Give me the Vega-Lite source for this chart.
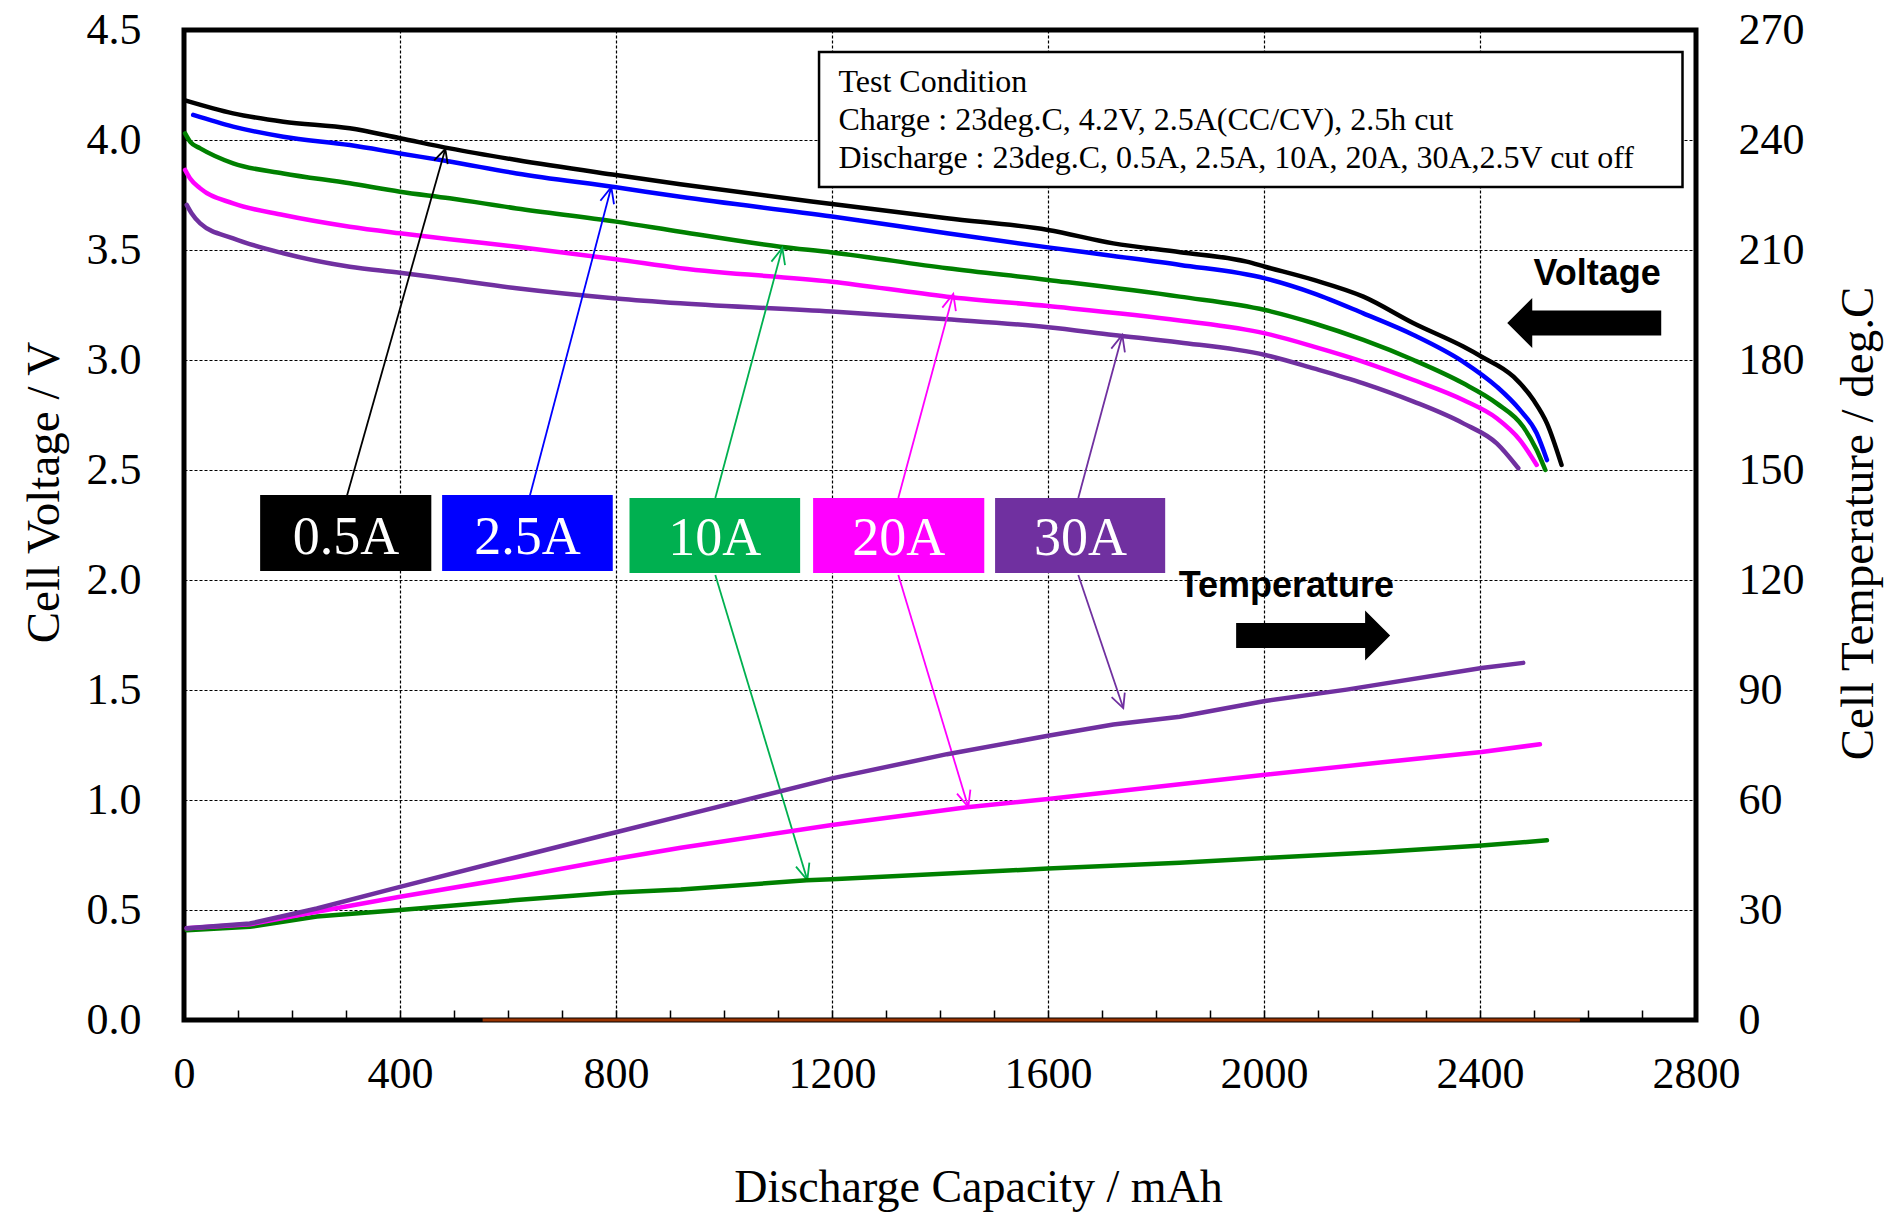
{
  "$schema": "https://vega.github.io/schema/vega-lite/v6.json",
  "width": 1512,
  "height": 990,
  "autosize": {"type": "none"},
  "padding": {"left": 184, "top": 30, "right": 190, "bottom": 195},
  "background": "white",
  "config": {
    "view": {"stroke": "black", "strokeWidth": 5},
    "font": "Liberation Serif"
  },
  "datasets": {
    "volt": [
      {"s":"0.5A","x":2,"v":4.18},{"s":"0.5A","x":91,"v":4.121},{"s":"0.5A","x":184,"v":4.083},{"s":"0.5A","x":307,"v":4.053},{"s":"0.5A","x":400,"v":4.008},{"s":"0.5A","x":492,"v":3.962},{"s":"0.5A","x":616,"v":3.909},{"s":"0.5A","x":800,"v":3.841},{"s":"0.5A","x":919,"v":3.799},{"s":"0.5A","x":1200,"v":3.709},{"s":"0.5A","x":1413,"v":3.644},{"s":"0.5A","x":1600,"v":3.591},{"s":"0.5A","x":1721,"v":3.53},{"s":"0.5A","x":1845,"v":3.49},{"s":"0.5A","x":1968,"v":3.447},{"s":"0.5A","x":2002,"v":3.424},{"s":"0.5A","x":2092,"v":3.364},{"s":"0.5A","x":2184,"v":3.288},{"s":"0.5A","x":2277,"v":3.167},{"s":"0.5A","x":2369,"v":3.061},{"s":"0.5A","x":2403,"v":3.015},{"s":"0.5A","x":2462,"v":2.924},{"s":"0.5A","x":2499,"v":2.818},{"s":"0.5A","x":2524,"v":2.712},{"s":"0.5A","x":2551,"v":2.523},
      {"s":"2.5A","x":17,"v":4.114},{"s":"2.5A","x":91,"v":4.061},{"s":"2.5A","x":184,"v":4.015},{"s":"2.5A","x":307,"v":3.977},{"s":"2.5A","x":400,"v":3.939},{"s":"2.5A","x":492,"v":3.902},{"s":"2.5A","x":616,"v":3.848},{"s":"2.5A","x":800,"v":3.785},{"s":"2.5A","x":919,"v":3.742},{"s":"2.5A","x":1200,"v":3.652},{"s":"2.5A","x":1413,"v":3.576},{"s":"2.5A","x":1600,"v":3.512},{"s":"2.5A","x":1721,"v":3.473},{"s":"2.5A","x":1845,"v":3.432},{"s":"2.5A","x":2002,"v":3.371},{"s":"2.5A","x":2092,"v":3.303},{"s":"2.5A","x":2184,"v":3.212},{"s":"2.5A","x":2277,"v":3.114},{"s":"2.5A","x":2369,"v":2.992},{"s":"2.5A","x":2431,"v":2.879},{"s":"2.5A","x":2474,"v":2.773},{"s":"2.5A","x":2505,"v":2.667},{"s":"2.5A","x":2524,"v":2.545},
      {"s":"10A","x":2,"v":4.03},{"s":"10A","x":12,"v":3.99},{"s":"10A","x":30,"v":3.962},{"s":"10A","x":91,"v":3.894},{"s":"10A","x":184,"v":3.848},{"s":"10A","x":307,"v":3.803},{"s":"10A","x":400,"v":3.765},{"s":"10A","x":492,"v":3.735},{"s":"10A","x":616,"v":3.689},{"s":"10A","x":800,"v":3.629},{"s":"10A","x":919,"v":3.583},{"s":"10A","x":1104,"v":3.515},{"s":"10A","x":1200,"v":3.489},{"s":"10A","x":1413,"v":3.417},{"s":"10A","x":1600,"v":3.364},{"s":"10A","x":1844,"v":3.288},{"s":"10A","x":2002,"v":3.227},{"s":"10A","x":2092,"v":3.167},{"s":"10A","x":2184,"v":3.091},{"s":"10A","x":2277,"v":3.0},{"s":"10A","x":2369,"v":2.894},{"s":"10A","x":2431,"v":2.803},{"s":"10A","x":2480,"v":2.697},{"s":"10A","x":2505,"v":2.591},{"s":"10A","x":2521,"v":2.5},
      {"s":"20A","x":2,"v":3.864},{"s":"20A","x":11,"v":3.826},{"s":"20A","x":30,"v":3.78},{"s":"20A","x":91,"v":3.712},{"s":"20A","x":184,"v":3.659},{"s":"20A","x":307,"v":3.606},{"s":"20A","x":400,"v":3.576},{"s":"20A","x":492,"v":3.549},{"s":"20A","x":616,"v":3.515},{"s":"20A","x":800,"v":3.458},{"s":"20A","x":919,"v":3.417},{"s":"20A","x":1200,"v":3.356},{"s":"20A","x":1413,"v":3.288},{"s":"20A","x":1600,"v":3.245},{"s":"20A","x":1844,"v":3.18},{"s":"20A","x":2002,"v":3.121},{"s":"20A","x":2092,"v":3.061},{"s":"20A","x":2184,"v":2.992},{"s":"20A","x":2277,"v":2.909},{"s":"20A","x":2369,"v":2.818},{"s":"20A","x":2431,"v":2.735},{"s":"20A","x":2474,"v":2.636},{"s":"20A","x":2505,"v":2.523},
      {"s":"30A","x":5,"v":3.705},{"s":"30A","x":14,"v":3.667},{"s":"30A","x":30,"v":3.621},{"s":"30A","x":91,"v":3.553},{"s":"30A","x":184,"v":3.485},{"s":"30A","x":307,"v":3.424},{"s":"30A","x":400,"v":3.397},{"s":"30A","x":492,"v":3.367},{"s":"30A","x":616,"v":3.326},{"s":"30A","x":800,"v":3.28},{"s":"30A","x":919,"v":3.258},{"s":"30A","x":1200,"v":3.22},{"s":"30A","x":1413,"v":3.185},{"s":"30A","x":1600,"v":3.149},{"s":"30A","x":1721,"v":3.114},{"s":"30A","x":1844,"v":3.08},{"s":"30A","x":2002,"v":3.023},{"s":"30A","x":2092,"v":2.962},{"s":"30A","x":2184,"v":2.894},{"s":"30A","x":2277,"v":2.811},{"s":"30A","x":2369,"v":2.712},{"s":"30A","x":2431,"v":2.621},{"s":"30A","x":2471,"v":2.508}
    ],
    "temp": [
      {"s":"10A","x":5,"t":24.5},{"s":"10A","x":122,"t":25.4},{"s":"10A","x":246,"t":28.2},{"s":"10A","x":400,"t":30.0},{"s":"10A","x":616,"t":32.7},{"s":"10A","x":800,"t":34.8},{"s":"10A","x":920,"t":35.6},{"s":"10A","x":1153,"t":38.1},{"s":"10A","x":1200,"t":38.4},{"s":"10A","x":1600,"t":41.3},{"s":"10A","x":1844,"t":42.9},{"s":"10A","x":2002,"t":44.2},{"s":"10A","x":2215,"t":45.8},{"s":"10A","x":2403,"t":47.6},{"s":"10A","x":2524,"t":49.0},
      {"s":"20A","x":5,"t":25.0},{"s":"20A","x":122,"t":26.1},{"s":"20A","x":246,"t":29.5},{"s":"20A","x":400,"t":33.6},{"s":"20A","x":616,"t":39.0},{"s":"20A","x":800,"t":44.0},{"s":"20A","x":920,"t":47.0},{"s":"20A","x":1200,"t":53.2},{"s":"20A","x":1450,"t":58.0},{"s":"20A","x":1600,"t":60.3},{"s":"20A","x":1844,"t":64.3},{"s":"20A","x":2002,"t":66.9},{"s":"20A","x":2215,"t":70.2},{"s":"20A","x":2403,"t":73.1},{"s":"20A","x":2511,"t":75.2},
      {"s":"30A","x":5,"t":25.0},{"s":"30A","x":122,"t":26.3},{"s":"30A","x":246,"t":30.4},{"s":"30A","x":400,"t":36.3},{"s":"30A","x":616,"t":44.4},{"s":"30A","x":800,"t":51.2},{"s":"30A","x":920,"t":55.6},{"s":"30A","x":1200,"t":65.9},{"s":"30A","x":1413,"t":72.5},{"s":"30A","x":1600,"t":77.5},{"s":"30A","x":1721,"t":80.6},{"s":"30A","x":1844,"t":82.7},{"s":"30A","x":2002,"t":87.0},{"s":"30A","x":2153,"t":90.1},{"s":"30A","x":2403,"t":96.0},{"s":"30A","x":2480,"t":97.4}
    ],
    "zero": [{"x":553,"v":0},{"x":2585,"v":0}],
    "box": [{"x1":1176,"x2":2775,"v1":3.786,"v2":4.4}],
    "cond": [
      {"t":"Test Condition","x":1212,"v":4.218},
      {"t":"Charge : 23deg.C, 4.2V, 2.5A(CC/CV), 2.5h cut","x":1212,"v":4.045},
      {"t":"Discharge : 23deg.C, 0.5A, 2.5A, 10A, 20A, 30A,2.5V cut off","x":1212,"v":3.873}
    ],
    "labels": [
      {"s":"0.5A","x1":141,"x2":458,"v1":2.041,"v2":2.386,"cx":300,"b":2.118},
      {"s":"2.5A","x1":478,"x2":794,"v1":2.041,"v2":2.386,"cx":636,"b":2.118},
      {"s":"10A","x1":825,"x2":1141,"v1":2.032,"v2":2.373,"cx":983,"b":2.114},
      {"s":"20A","x1":1165,"x2":1482,"v1":2.032,"v2":2.373,"cx":1323.5,"b":2.114},
      {"s":"30A","x1":1502,"x2":1817,"v1":2.032,"v2":2.373,"cx":1660,"b":2.114}
    ],
    "arrows": [
      {"id":"a1","s":"0.5A","o":1,"x":300.6,"v":2.373},{"id":"a1","s":"0.5A","o":2,"x":483.9,"v":3.959},
      {"id":"h1","s":"0.5A","o":1,"x":488.3,"v":3.89},{"id":"h1","s":"0.5A","o":2,"x":483.9,"v":3.959},{"id":"h1","s":"0.5A","o":3,"x":463.3,"v":3.907},
      {"id":"a2","s":"2.5A","o":1,"x":639.4,"v":2.373},{"id":"a2","s":"2.5A","o":2,"x":791.3,"v":3.786},
      {"id":"h2","s":"2.5A","o":1,"x":796.3,"v":3.708},{"id":"h2","s":"2.5A","o":2,"x":791.3,"v":3.786},{"id":"h2","s":"2.5A","o":3,"x":771.1,"v":3.724},
      {"id":"a3","s":"10A","o":1,"x":983.9,"v":2.373},{"id":"a3","s":"10A","o":2,"x":1108.0,"v":3.509},
      {"id":"h3","s":"10A","o":1,"x":1113.0,"v":3.431},{"id":"h3","s":"10A","o":2,"x":1108.0,"v":3.509},{"id":"h3","s":"10A","o":3,"x":1087.8,"v":3.447},
      {"id":"a4","s":"10A","o":1,"x":983.9,"v":2.023},{"id":"a4","s":"10A","o":2,"x":1154.3,"v":0.636},
      {"id":"h4","s":"10A","o":1,"x":1158.1,"v":0.715},{"id":"h4","s":"10A","o":2,"x":1154.3,"v":0.636},{"id":"h4","s":"10A","o":3,"x":1133.3,"v":0.697},
      {"id":"a5","s":"20A","o":1,"x":1322.8,"v":2.373},{"id":"a5","s":"20A","o":2,"x":1424.6,"v":3.3},
      {"id":"h5","s":"20A","o":1,"x":1429.4,"v":3.222},{"id":"h5","s":"20A","o":2,"x":1424.6,"v":3.3},{"id":"h5","s":"20A","o":3,"x":1404.3,"v":3.238},
      {"id":"a6","s":"20A","o":1,"x":1322.8,"v":2.023},{"id":"a6","s":"20A","o":2,"x":1452.4,"v":0.968},
      {"id":"h6","s":"20A","o":1,"x":1456.3,"v":1.047},{"id":"h6","s":"20A","o":2,"x":1452.4,"v":0.968},{"id":"h6","s":"20A","o":3,"x":1431.5,"v":1.029},
      {"id":"a7","s":"30A","o":1,"x":1656.1,"v":2.373},{"id":"a7","s":"30A","o":2,"x":1737.6,"v":3.114},
      {"id":"h7","s":"30A","o":1,"x":1742.4,"v":3.035},{"id":"h7","s":"30A","o":2,"x":1737.6,"v":3.114},{"id":"h7","s":"30A","o":3,"x":1717.2,"v":3.052},
      {"id":"a8","s":"30A","o":1,"x":1656.1,"v":2.023},{"id":"a8","s":"30A","o":2,"x":1739.4,"v":1.418},
      {"id":"h8","s":"30A","o":1,"x":1742.2,"v":1.488},{"id":"h8","s":"30A","o":2,"x":1739.4,"v":1.418},{"id":"h8","s":"30A","o":3,"x":1717.8,"v":1.468}
    ],
    "leftArrow": [{"x":2593,"v":3.168}],
    "rightArrow": [{"x":2091,"v":1.748}],
    "words": [
      {"t":"Voltage","x":2499,"v":3.341},
      {"t":"Temperature","x":1842,"v":1.923}
    ]
  },
  "layer": [
    {
      "layer": [
        {
          "data": {"name": "volt"},
          "mark": {"type": "line", "strokeWidth": 4.5, "strokeCap": "round", "interpolate": "monotone"},
          "encoding": {
            "x": {
              "field": "x", "type": "quantitative",
              "scale": {"domain": [0, 2800], "nice": false, "zero": false},
              "axis": {
                "values": [0,100,200,300,400,500,600,700,800,900,1000,1100,1200,1300,1400,1500,1600,1700,1800,1900,2000,2100,2200,2300,2400,2500,2600,2700,2800],
                "labelExpr": "datum.value % 400 === 0 ? datum.label : ''",
                "format": "d",
                "labelFont": "Liberation Serif", "labelFontSize": 44, "labelColor": "black",
                "labelFlush": false, "labelOverlap": false, "labelPadding": 42,
                "domain": false,
                "ticks": true, "tickSize": -10, "tickColor": "black", "tickWidth": 1.5,
                "grid": true, "gridColor": "black", "gridWidth": 1.2, "gridDash": [3, 2],
                "gridOpacity": {"condition": {"test": "datum.value % 400 === 0 && datum.value > 0 && datum.value < 2800", "value": 1}, "value": 0},
                "title": "Discharge Capacity / mAh",
                "titleFont": "Liberation Serif", "titleFontSize": 46, "titleFontWeight": "normal", "titleColor": "black",
                "titleX": 794, "titleY": 181, "titleBaseline": "alphabetic", "titleAlign": "center"
              }
            },
            "y": {
              "field": "v", "type": "quantitative",
              "scale": {"domain": [0, 4.5], "nice": false, "zero": false},
              "axis": {
                "values": [0,0.5,1,1.5,2,2.5,3,3.5,4,4.5],
                "format": ".1f",
                "labelFont": "Liberation Serif", "labelFontSize": 44, "labelColor": "black",
                "labelPadding": 43, "labelFlush": false, "labelOverlap": false,
                "domain": false, "ticks": false,
                "grid": true, "gridColor": "black", "gridWidth": 1.2, "gridDash": [3, 2],
                "title": "Cell Voltage / V",
                "titleFont": "Liberation Serif", "titleFontSize": 47, "titleFontWeight": "normal", "titleColor": "black",
                "titleAngle": 270, "titleX": -126, "titleY": 462, "titleBaseline": "alphabetic", "titleAlign": "center"
              }
            },
            "stroke": {
              "field": "s", "type": "nominal",
              "scale": {"domain": ["0.5A","2.5A","10A","20A","30A"], "range": ["#000000","#0000FF","#008000","#FF00FF","#7030A0"]},
              "legend": null
            }
          }
        },
        {
          "data": {"name": "zero"},
          "mark": {"type": "line", "stroke": "#993300", "strokeWidth": 3},
          "encoding": {
            "x": {"field": "x", "type": "quantitative"},
            "y": {"field": "v", "type": "quantitative"}
          }
        },
        {
          "data": {"name": "box"},
          "mark": {"type": "rect", "fill": "white", "stroke": "black", "strokeWidth": 2.5},
          "encoding": {
            "x": {"field": "x1", "type": "quantitative"},
            "x2": {"field": "x2"},
            "y": {"field": "v1", "type": "quantitative"},
            "y2": {"field": "v2"}
          }
        },
        {
          "data": {"name": "cond"},
          "mark": {"type": "text", "font": "Liberation Serif", "fontSize": 32, "align": "left", "baseline": "alphabetic", "color": "black"},
          "encoding": {
            "x": {"field": "x", "type": "quantitative"},
            "y": {"field": "v", "type": "quantitative"},
            "text": {"field": "t"}
          }
        },
        {
          "data": {"name": "labels"},
          "mark": {"type": "rect"},
          "encoding": {
            "x": {"field": "x1", "type": "quantitative"},
            "x2": {"field": "x2"},
            "y": {"field": "v1", "type": "quantitative"},
            "y2": {"field": "v2"},
            "color": {
              "field": "s", "type": "nominal",
              "scale": {"domain": ["0.5A","2.5A","10A","20A","30A"], "range": ["#000000","#0000FF","#00B050","#FF00FF","#7030A0"]},
              "legend": null
            }
          }
        },
        {
          "data": {"name": "labels"},
          "mark": {"type": "text", "font": "Liberation Serif", "fontSize": 54, "align": "center", "baseline": "alphabetic", "color": "white"},
          "encoding": {
            "x": {"field": "cx", "type": "quantitative"},
            "y": {"field": "b", "type": "quantitative"},
            "text": {"field": "s"}
          }
        },
        {
          "data": {"name": "arrows"},
          "mark": {"type": "line", "strokeWidth": 1.8, "strokeJoin": "miter"},
          "encoding": {
            "x": {"field": "x", "type": "quantitative"},
            "y": {"field": "v", "type": "quantitative"},
            "detail": {"field": "id"},
            "order": {"field": "o"},
            "color": {"field": "s", "type": "nominal", "legend": null}
          }
        },
        {
          "data": {"name": "leftArrow"},
          "mark": {"type": "point", "shape": "M -1 0 L -0.675 -0.325 L -0.675 -0.162 L 1 -0.162 L 1 0.162 L -0.675 0.162 L -0.675 0.325 Z", "size": 23716, "filled": true, "fill": "black", "strokeWidth": 0, "opacity": 1},
          "encoding": {
            "x": {"field": "x", "type": "quantitative"},
            "y": {"field": "v", "type": "quantitative"}
          }
        },
        {
          "data": {"name": "rightArrow"},
          "mark": {"type": "point", "shape": "M 1 0 L 0.675 -0.325 L 0.675 -0.162 L -1 -0.162 L -1 0.162 L 0.675 0.162 L 0.675 0.325 Z", "size": 23716, "filled": true, "fill": "black", "strokeWidth": 0, "opacity": 1},
          "encoding": {
            "x": {"field": "x", "type": "quantitative"},
            "y": {"field": "v", "type": "quantitative"}
          }
        },
        {
          "data": {"name": "words"},
          "mark": {"type": "text", "font": "Liberation Sans", "fontSize": 36, "fontWeight": "bold", "align": "left", "baseline": "alphabetic", "color": "black"},
          "encoding": {
            "x": {"field": "x", "type": "quantitative"},
            "y": {"field": "v", "type": "quantitative"},
            "text": {"field": "t"}
          }
        }
      ]
    },
    {
      "data": {"name": "temp"},
      "mark": {"type": "line", "strokeWidth": 4.5, "strokeCap": "round"},
      "encoding": {
        "x": {"field": "x", "type": "quantitative"},
        "y": {
          "field": "t", "type": "quantitative",
          "scale": {"domain": [0, 270], "nice": false, "zero": false},
          "axis": {
            "orient": "right",
            "values": [0,30,60,90,120,150,180,210,240,270],
            "format": "d",
            "labelFont": "Liberation Serif", "labelFontSize": 44, "labelColor": "black",
            "labelPadding": 42, "labelFlush": false, "labelOverlap": false,
            "domain": false, "ticks": false, "grid": false,
            "title": "Cell Temperature / deg.C",
            "titleFont": "Liberation Serif", "titleFontSize": 47, "titleFontWeight": "normal", "titleColor": "black",
            "titleAngle": 270, "titleX": 176, "titleY": 493, "titleBaseline": "alphabetic", "titleAlign": "center"
          }
        },
        "stroke": {"field": "s", "type": "nominal", "legend": null}
      }
    }
  ],
  "resolve": {"scale": {"y": "independent"}}
}
